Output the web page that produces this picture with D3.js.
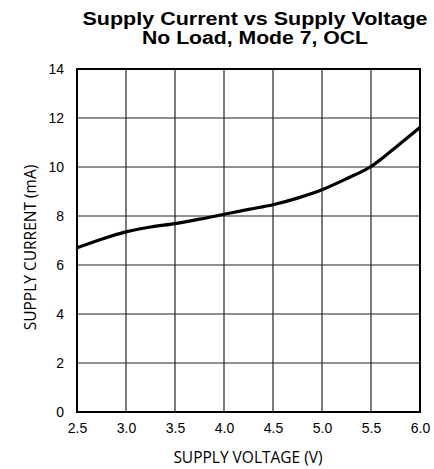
<!DOCTYPE html>
<html><head><meta charset="utf-8">
<script src="https://cdn.jsdelivr.net/npm/d3@7"></script>
<style>body{margin:0;background:#fff}</style>
</head><body><svg id="c" width="434" height="469"></svg>
<script>
const voltage = [2.5, 2.75, 3.0, 3.25, 3.5, 3.75, 4.0, 4.25, 4.5, 4.75, 5.0, 5.25, 5.5, 5.75, 6.0];
const current = [6.70, 7.05, 7.35, 7.55, 7.69, 7.87, 8.07, 8.27, 8.46, 8.73, 9.07, 9.52, 10.02, 10.80, 11.62];
const xTicks = [2.5, 3.0, 3.5, 4.0, 4.5, 5.0, 5.5, 6.0];
const yTicks = [0, 2, 4, 6, 8, 10, 12, 14];
const titleLines = ["Supply Current vs Supply Voltage", "No Load, Mode 7, OCL"];
const titleWidths = [345, 226];
const xLabel = "SUPPLY VOLTAGE (V)";
const yLabel = "SUPPLY CURRENT (mA)";

const svg = d3.select("#c");
const L = 77, R = 420, T = 69, B = 412;
const x = d3.scaleLinear().domain([2.5, 6.0]).range([L, R]);
const y = d3.scaleLinear().domain([0, 14]).range([B, T]);

// grid
const g = svg.append("g");
g.selectAll("line.v").data(xTicks).join("line")
  .attr("x1", d => x(d)).attr("x2", d => x(d)).attr("y1", T).attr("y2", B)
  .attr("stroke", "#222").attr("stroke-width", 1.2);
g.selectAll("line.h").data(yTicks).join("line")
  .attr("y1", d => y(d)).attr("y2", d => y(d)).attr("x1", L).attr("x2", R)
  .attr("stroke", "#222").attr("stroke-width", 1.2);
svg.append("rect").attr("x", L).attr("y", T).attr("width", R - L).attr("height", B - T)
  .attr("fill", "none").attr("stroke", "#000").attr("stroke-width", 2);

// axes tick labels
const xa = svg.append("g").attr("transform", `translate(0,${B})`)
  .call(d3.axisBottom(x).tickValues(xTicks).tickFormat(d3.format(".1f")).tickSize(0).tickPadding(11));
xa.select(".domain").remove();
xa.selectAll("text").attr("font-family", "Liberation Sans, Arial, sans-serif").attr("font-size", 14).attr("fill", "#000");
const ya = svg.append("g").attr("transform", `translate(${L},0)`)
  .call(d3.axisLeft(y).tickValues(yTicks).tickFormat(d3.format("d")).tickSize(0).tickPadding(13));
ya.select(".domain").remove();
ya.selectAll("text").attr("font-family", "Liberation Sans, Arial, sans-serif").attr("font-size", 14).attr("fill", "#000");

// curve
svg.append("path")
  .datum(voltage.map((v, i) => [v, current[i]]))
  .attr("d", d3.line().x(d => x(d[0])).y(d => y(d[1])).curve(d3.curveMonotoneX))
  .attr("fill", "none").attr("stroke", "#000").attr("stroke-width", 3.2).attr("stroke-linejoin", "round");

// title
svg.selectAll("text.title").data(titleLines).join("text")
  .attr("x", 255).attr("y", (d, i) => 25 + i * 19)
  .attr("text-anchor", "middle").attr("font-family", "Liberation Sans, Arial, sans-serif")
  .attr("font-weight", "bold").attr("font-size", 18).attr("fill", "#000")
  .attr("textLength", (d, i) => titleWidths[i]).attr("lengthAdjust", "spacingAndGlyphs")
  .text(d => d);

// axis labels
svg.append("text").attr("x", 248).attr("y", 463).attr("text-anchor", "middle")
  .attr("font-family", "Open Sans, sans-serif").attr("font-size", 15.5).attr("fill", "#000").text(xLabel);
svg.append("text").attr("transform", "translate(36,247.5) rotate(-90)").attr("text-anchor", "middle")
  .attr("font-family", "Open Sans, sans-serif").attr("font-size", 15.5).attr("fill", "#000").text(yLabel);
</script>
</body></html>
